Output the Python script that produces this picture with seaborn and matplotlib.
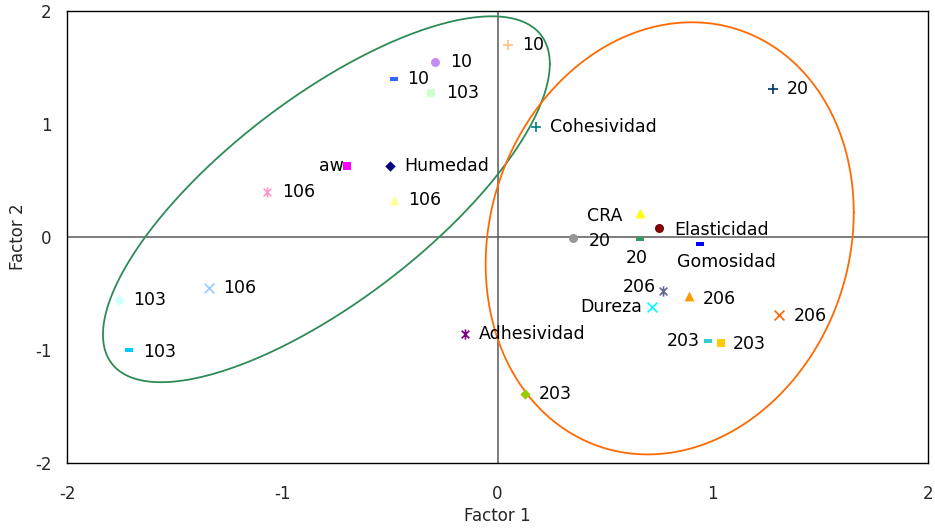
import numpy as np
import pandas as pd
import matplotlib
matplotlib.use("Agg")
import matplotlib.pyplot as plt
import seaborn as sns
from matplotlib.path import Path

# ---------------- data ----------------
labels = ["10", "10", "10", "103", "aw", "Humedad", "106", "106", "Cohesividad",
          "20", "CRA", "Elasticidad", "20", "20", "Gomosidad", "206", "Dureza",
          "206", "206", "203", "203", "Adhesividad", "203", "106", "103", "103"]
factor1 = [0.05, -0.29, -0.48, -0.31, -0.70, -0.50, -1.07, -0.48, 0.18,
           1.28, 0.66, 0.75, 0.35, 0.66, 0.94, 0.77, 0.72,
           0.89, 1.31, 0.98, 1.04, -0.15, 0.13, -1.34, -1.76, -1.71]
factor2 = [1.70, 1.55, 1.40, 1.27, 0.63, 0.63, 0.40, 0.33, 0.97,
           1.31, 0.21, 0.08, -0.01, -0.02, -0.06, -0.48, -0.62,
           -0.52, -0.69, -0.92, -0.94, -0.86, -1.39, -0.45, -0.56, -1.00]

# groups (ellipses): center x, center y, half-width, half-height, phase cos
ell_cx = [-0.795, 0.80]
ell_cy = [0.334, -0.012]
ell_w = [1.038, 0.855]
ell_h = [1.619, 1.912]
ell_c = [0.74, 0.12]

xticks = [-2, -1, 0, 1, 2]
yticks = [-2, -1, 0, 1, 2]

# ---------------- styles ----------------
kinds = ["plus", "circle", "dash", "square", "square", "diamond", "aster", "tri", "plus",
         "plus", "tri", "circle", "circle", "dash", "dash", "aster", "x",
         "tri", "x", "dash", "square", "aster", "diamond", "x", "diamond", "dash"]
colors = ["#FFC080", "#C58CF5", "#3366FF", "#CCFFCC", "#FF00FF", "#000080", "#FF99CC",
          "#FFFF99", "#008080", "#003366", "#FFFF00", "#800000", "#969696", "#339966",
          "#0000FF", "#666699", "#00FFFF", "#FF9900", "#FF6600", "#33CCCC", "#FFCC00",
          "#800080", "#99CC00", "#99CCFF", "#CCFFFF", "#00CCFF"]
# label placement: (ha, va, dx_px, dy_px) ; dy positive = up
place = [("left", "center", 14, 0), ("left", "center", 15, 0), ("left", "center", 13, 0),
         ("left", "center", 15, 0), ("right", "center", -3, 0), ("left", "center", 14, 0),
         ("left", "center", 15, 0), ("left", "center", 14, 0), ("left", "center", 14, 0),
         ("left", "center", 14, 0), ("right", "center", -17, -3), ("left", "center", 15, -2),
         ("left", "center", 16, -3), ("center", "top", -3, -10), ("center", "center", 27, -18),
         ("right", "center", -7, 4), ("right", "center", -10, 0), ("left", "center", 14, -3),
         ("left", "center", 14, -1), ("right", "center", -9, 0), ("left", "center", 11, -1),
         ("left", "center", 14, 0), ("left", "center", 13, 0), ("left", "center", 14, 0),
         ("left", "center", 14, 0), ("left", "center", 14, -2)]

aster_path = Path([(0, -1), (0, 1), (-0.75, -0.75), (0.75, 0.75), (-0.75, 0.75), (0.75, -0.75)],
                  [Path.MOVETO, Path.LINETO, Path.MOVETO, Path.LINETO, Path.MOVETO, Path.LINETO])
dash_verts = [(-1, -0.38), (1, -0.38), (1, 0.38), (-1, 0.38), (-1, -0.38)]
marker_map = {
    "plus": dict(marker="+", s=60, linewidth=1.2),
    "x": dict(marker="x", s=50, linewidth=1.2),
    "circle": dict(marker="o", s=42, linewidth=0),
    "square": dict(marker="s", s=34, linewidth=0),
    "diamond": dict(marker="D", s=28, linewidth=0),
    "tri": dict(marker="^", s=50, linewidth=0),
    "dash": dict(marker=dash_verts, s=33, linewidth=0),
    "aster": dict(marker=aster_path, s=55, linewidth=1.2),
}

df = pd.DataFrame({"Factor 1": factor1, "Factor 2": factor2, "label": labels,
                   "kind": kinds, "color": colors})

sns.set_style("white")
plt.rcParams["font.family"] = ["DejaVu Sans"]
plt.rcParams["axes.unicode_minus"] = False

fig = plt.figure(figsize=(9.35, 5.28), dpi=100)
ax = fig.add_axes([67 / 935, 1 - 463 / 528, (928 - 67) / 935, (463 - 11) / 528])

# ellipses
ell_colors = ["#2E8B57", "#FF6A00"]
t = np.linspace(0, 2 * np.pi, 400)
for cx, cy, w, h, c, col in zip(ell_cx, ell_cy, ell_w, ell_h, ell_c, ell_colors):
    alpha = np.arccos(c)
    ex = cx + w * np.cos(t)
    ey = cy + h * np.cos(t - alpha)
    ax.plot(ex, ey, color=col, lw=1.3, zorder=2)

# zero axes
ax.axhline(0, color="#595959", lw=1.1, zorder=1)
ax.axvline(0, color="#595959", lw=1.1, zorder=1)

# points
for i, row in df.iterrows():
    kw = dict(marker_map[row["kind"]])
    if row["kind"] in ("plus", "x"):
        sns.scatterplot(x=[row["Factor 1"]], y=[row["Factor 2"]], color=row["color"],
                        ax=ax, zorder=3, legend=False, **kw)
    else:
        sns.scatterplot(x=[row["Factor 1"]], y=[row["Factor 2"]], color=row["color"],
                        edgecolor=row["color"], ax=ax, zorder=3, legend=False, **kw)
    ha, va, dx, dy = place[i]
    ax.annotate(row["label"], (row["Factor 1"], row["Factor 2"]),
                xytext=(dx * 0.72, dy * 0.72), textcoords="offset points",
                ha=ha, va=va, fontsize=12.5, color="black", zorder=4)

ax.set_xlim(-2, 2)
ax.set_ylim(-2, 2)
ax.set_xticks(xticks)
ax.set_yticks(yticks)
ax.set_xticklabels([str(v) for v in xticks])
ax.set_yticklabels([str(v) for v in yticks])
ax.tick_params(axis="x", length=0, pad=16, labelsize=12)
ax.tick_params(axis="y", length=0, pad=11, labelsize=12)
ax.set_xlabel("Factor 1", fontsize=12, labelpad=3)
ax.set_ylabel("Factor 2", fontsize=12, labelpad=6)
for sp in ax.spines.values():
    sp.set_color("black")
    sp.set_linewidth(1.0)
    sp.set_visible(True)

fig.savefig("out.png", dpi=100)
